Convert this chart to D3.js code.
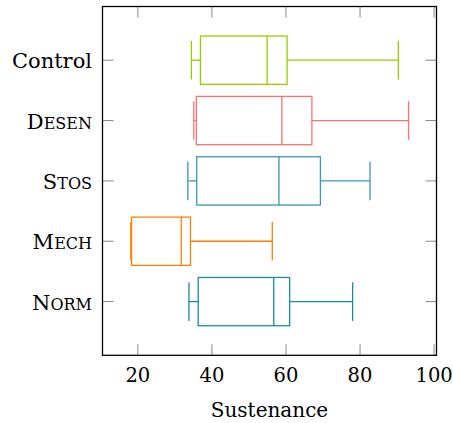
<!DOCTYPE html>
<html><head><meta charset="utf-8">
<script src="https://cdn.jsdelivr.net/npm/d3@7"></script>
<style>body{margin:0;background:#fff}</style>
</head><body><svg id="c" width="453" height="423"></svg>
<script>
const categories = ["Norm","Mech","Stos","Desen","Control"];
const smallCaps = [true,true,true,true,false];
const lowerWhisker = [33.8, 18.1, 33.5, 35.1, 34.45];
const lowerQuartile = [36.3, 18.3, 35.9, 35.8, 36.9];
const median = [56.7, 31.7, 58.1, 58.9, 54.9];
const upperQuartile = [61.0, 34.2, 69.3, 67.0, 60.3];
const upperWhisker = [78.0, 56.3, 82.7, 93.1, 90.35];
const colors = ["#16918f","#ff8000","#3b97b3","#ff7070","#99cc00"];
const xTicks = [20,40,60,80,100];

const FONT = "'DejaVu Serif', serif";
const svg = d3.select("#c");
const L=102.5, R=436.5, T=6.5, B=355.3;
const x = d3.scaleLinear().domain([10.45,100.65]).range([L,R]);
const y = d3.scaleLinear().domain([0.11,5.89]).range([B,T]);
const boxH = 0.4, capH = 0.32;

const g = svg.append("g");
const tl = 11;
xTicks.forEach(t=>{
  g.append("line").attr("x1",x(t)).attr("x2",x(t)).attr("y1",B).attr("y2",B-tl).attr("stroke","#888").attr("stroke-width",1);
  g.append("line").attr("x1",x(t)).attr("x2",x(t)).attr("y1",T).attr("y2",T+tl).attr("stroke","#888").attr("stroke-width",1);
  g.append("text").attr("x",x(t)).attr("y",381.5).attr("text-anchor","middle").attr("font-family",FONT).attr("font-size",19.5).text(t);
});
categories.forEach((c,i)=>{
  const yy=y(i+1);
  g.append("line").attr("x1",L).attr("x2",L+tl).attr("y1",yy).attr("y2",yy).attr("stroke","#888").attr("stroke-width",1);
  g.append("line").attr("x1",R).attr("x2",R-tl).attr("y1",yy).attr("y2",yy).attr("stroke","#888").attr("stroke-width",1);
  const t = g.append("text").attr("x",92).attr("y",yy+8).attr("text-anchor","end").attr("font-family",FONT).attr("font-size",21);
  if (smallCaps[i]) {
    t.append("tspan").text(c[0]);
    t.append("tspan").attr("font-size",16).text(c.slice(1).toUpperCase());
  } else t.text(c);
});
categories.forEach((c,i)=>{
  const col=colors[i], p=i+1;
  const bg=g.append("g").attr("stroke",col).attr("stroke-width",1.3).attr("fill","none");
  bg.append("line").attr("x1",x(lowerWhisker[i])).attr("x2",x(lowerQuartile[i])).attr("y1",y(p)).attr("y2",y(p));
  bg.append("line").attr("x1",x(upperQuartile[i])).attr("x2",x(upperWhisker[i])).attr("y1",y(p)).attr("y2",y(p));
  bg.append("line").attr("x1",x(lowerWhisker[i])).attr("x2",x(lowerWhisker[i])).attr("y1",y(p-capH)).attr("y2",y(p+capH));
  bg.append("line").attr("x1",x(upperWhisker[i])).attr("x2",x(upperWhisker[i])).attr("y1",y(p-capH)).attr("y2",y(p+capH));
  bg.append("rect").attr("x",x(lowerQuartile[i])).attr("y",y(p+boxH)).attr("width",x(upperQuartile[i])-x(lowerQuartile[i])).attr("height",y(p-boxH)-y(p+boxH));
  bg.append("line").attr("x1",x(median[i])).attr("x2",x(median[i])).attr("y1",y(p-boxH)).attr("y2",y(p+boxH));
});
g.append("rect").attr("x",L).attr("y",T).attr("width",R-L).attr("height",B-T).attr("fill","none").attr("stroke","#000").attr("stroke-width",1.3);
g.append("text").attr("x",(L+R)/2).attr("y",416.5).attr("text-anchor","middle").attr("font-family",FONT).attr("font-size",20).text("Sustenance");
</script></body></html>
